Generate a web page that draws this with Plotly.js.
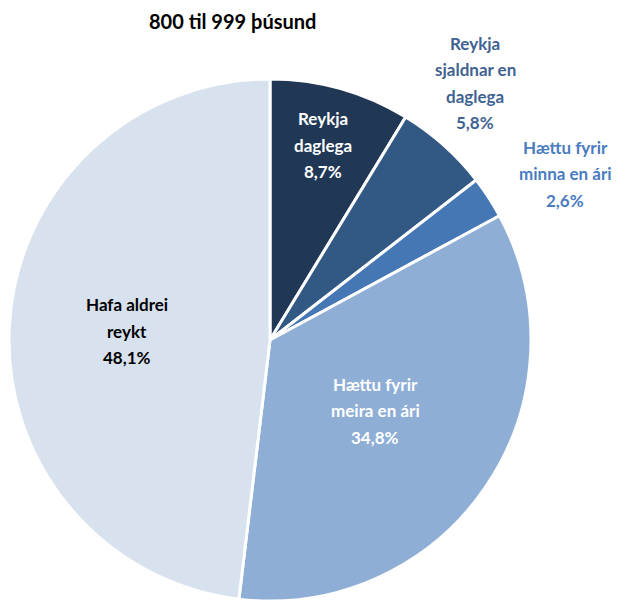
<!DOCTYPE html>
<html>
<head>
<meta charset="utf-8">
<script src="https://cdn.plot.ly/plotly-3.0.1.min.js"></script>
<style>html,body{margin:0;padding:0;background:#fff;}#chart{width:627px;height:601px;}</style>
</head>
<body>
<div id="chart"></div>
<script>
const chartTitle = "800 til 999 þúsund";
const labels = ["Reykja daglega", "Reykja sjaldnar en daglega", "Hættu fyrir minna en ári", "Hættu fyrir meira en ári", "Hafa aldrei reykt"];
const labelLines = [["Reykja", "daglega"], ["Reykja", "sjaldnar en", "daglega"], ["Hættu fyrir", "minna en ári"], ["Hættu fyrir", "meira en ári"], ["Hafa aldrei", "reykt"]];
const values = [8.7, 5.8, 2.6, 34.8, 48.1];

const colors = ["#213756", "#325884", "#4577b5", "#8eaed6", "#d7e2ee"];
const textColors = ["#ffffff", "#3f6391", "#4a7cc0", "#ffffff", "#000000"];
const labelCenters = [[323, 145], [475, 83], [565, 174], [375, 411], [127, 331]];

const W = 627, H = 601, lineH = 26.5;
const annotations = [];
labels.forEach((lab, i) => {
  const lines = labelLines[i].concat([values[i].toFixed(1).replace('.', ',') + '%']);
  const [cx, cy] = labelCenters[i];
  lines.forEach((ln, j) => {
    const py = cy + (j - (lines.length - 1) / 2) * lineH;
    annotations.push({
      text: ln, showarrow: false, xref: 'paper', yref: 'paper',
      x: cx / W, y: 1 - py / H, xanchor: 'center', yanchor: 'middle',
      font: {family: 'Lato, sans-serif', size: 17, color: textColors[i], weight: 'bold'}
    });
  });
});
annotations.push({
  text: '<b>' + chartTitle + '</b>', showarrow: false, xref: 'paper', yref: 'paper',
  x: 232 / W, y: 1 - 21 / H, xanchor: 'center', yanchor: 'middle',
  font: {family: 'Lato, sans-serif', size: 20, color: '#000000'}
});

const trace = {
  type: 'pie', labels: labels, values: values, sort: false, direction: 'clockwise', rotation: 0,
  marker: {colors: colors, line: {color: '#ffffff', width: 3}},
  textinfo: 'none', hoverinfo: 'label+percent', showlegend: false,
  domain: {x: [9 / W, 531 / W], y: [0, 522 / H]}
};

Plotly.newPlot('chart', [trace], {
  width: W, height: H, margin: {l: 0, r: 0, t: 0, b: 0},
  paper_bgcolor: '#ffffff', showlegend: false, annotations: annotations
}, {displayModeBar: false, staticPlot: true});
</script>
</body>
</html>
